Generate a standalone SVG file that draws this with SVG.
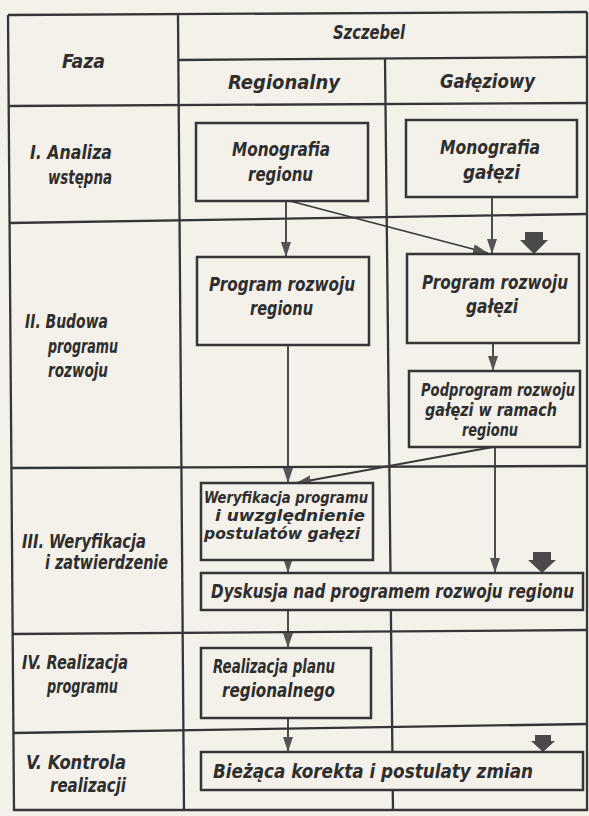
<svg xmlns="http://www.w3.org/2000/svg" width="589" height="816" viewBox="0 0 589 816">
<style>
  .bg { fill: #f3f1ea; }
  .grid line { stroke: #363636; stroke-width: 2.3; }
  .box { fill: #f3f1ea; stroke: #363636; stroke-width: 2.5; }
  .t { font-family: "DejaVu Sans Condensed", "Liberation Sans Narrow", sans-serif; font-style: italic; font-weight: bold; font-size: 19px; fill: #2e2e2e; }
  .s { font-size: 17px; }
  .xs { font-size: 16px; }
  .con line { stroke: #3a3a3a; stroke-width: 1.8; }
  .fat { fill: #4a4a4a; }
</style>
<defs>
  <marker id="ah" markerUnits="userSpaceOnUse" markerWidth="16" markerHeight="10" refX="15" refY="5" orient="auto">
    <path d="M0,0 L15,5 L0,10 z" fill="#555"/>
  </marker>
</defs>
<rect class="bg" x="0" y="0" width="589" height="816"/>

<g id="grid" class="grid">
  <line x1="8" y1="15" x2="587" y2="12"/>
  <line x1="8" y1="15" x2="14" y2="811"/>
  <line x1="587" y1="12" x2="587" y2="811"/>
  <line x1="178" y1="15" x2="184" y2="811"/>
  <line x1="178" y1="60" x2="587" y2="57"/>
  <line x1="8" y1="106" x2="587" y2="103"/>
  <line x1="385" y1="58" x2="393" y2="811"/>
  <line x1="9" y1="223" x2="587" y2="214"/>
  <line x1="11" y1="468" x2="587" y2="466"/>
  <line x1="12" y1="634" x2="587" y2="630"/>
  <line x1="13" y1="733" x2="587" y2="724"/>
  <line x1="14" y1="810" x2="587" y2="810"/>
</g>

<g id="header">
  <text class="t" x="333" y="39" textLength="72" lengthAdjust="spacingAndGlyphs">Szczebel</text>
  <text class="t" x="62" y="68" textLength="43" lengthAdjust="spacingAndGlyphs">Faza</text>
  <text class="t" x="228" y="89" textLength="112" lengthAdjust="spacingAndGlyphs">Regionalny</text>
  <text class="t" x="440" y="88" textLength="95" lengthAdjust="spacingAndGlyphs">Gałęziowy</text>
</g>

<g id="phase1"><text class="t" x="30" y="159" textLength="82" lengthAdjust="spacingAndGlyphs">I. Analiza</text><text class="t" x="48" y="184" textLength="64" lengthAdjust="spacingAndGlyphs">wstępna</text></g>
<g id="phase2"><text class="t" x="25" y="328" textLength="83" lengthAdjust="spacingAndGlyphs">II. Budowa</text><text class="t" x="48" y="353" textLength="70" lengthAdjust="spacingAndGlyphs">programu</text><text class="t" x="48" y="377" textLength="60" lengthAdjust="spacingAndGlyphs">rozwoju</text></g>
<g id="phase3"><text class="t" x="22" y="548" textLength="124" lengthAdjust="spacingAndGlyphs">III. Weryfikacja</text><text class="t" x="45" y="569" textLength="123" lengthAdjust="spacingAndGlyphs">i zatwierdzenie</text></g>
<g id="phase4"><text class="t" x="22" y="669" textLength="106" lengthAdjust="spacingAndGlyphs">IV. Realizacja</text><text class="t" x="47" y="693" textLength="71" lengthAdjust="spacingAndGlyphs">programu</text></g>
<g id="phase5"><text class="t" x="26" y="769" textLength="100" lengthAdjust="spacingAndGlyphs">V. Kontrola</text><text class="t" x="50" y="792" textLength="76" lengthAdjust="spacingAndGlyphs">realizacji</text></g>

<g id="connectors" class="con">
  <line x1="286" y1="201" x2="286" y2="257" marker-end="url(#ah)"/>
  <line x1="290" y1="201" x2="488" y2="253" marker-end="url(#ah)"/>
  <line x1="492" y1="197" x2="492" y2="254" marker-end="url(#ah)"/>
  <line x1="493" y1="343" x2="493" y2="371" marker-end="url(#ah)"/>
  <line x1="288" y1="345" x2="288" y2="483" marker-end="url(#ah)"/>
  <line x1="493" y1="447" x2="296" y2="483" marker-end="url(#ah)"/>
  <line x1="495" y1="447" x2="495" y2="573" marker-end="url(#ah)"/>
  <line x1="288" y1="560" x2="288" y2="573" marker-end="url(#ah)"/>
  <line x1="288" y1="610" x2="288" y2="648" marker-end="url(#ah)"/>
  <line x1="288" y1="718" x2="288" y2="752" marker-end="url(#ah)"/>
  <path class="fat" d="M525,232 L543,232 L543,240 L548,240 L534,254 L520,240 L525,240 z"/>
  <path class="fat" d="M533,552 L551,552 L551,560 L556,560 L542,573 L528,560 L533,560 z"/>
  <path class="fat" d="M535,735 L551,735 L551,741 L555,741 L543,752 L531,741 L535,741 z"/>
</g>

<g id="mono-regionu"><rect class="box" x="196" y="123" width="172" height="78"/>
  <text class="t" x="232" y="156" textLength="98" lengthAdjust="spacingAndGlyphs">Monografia</text><text class="t" x="248" y="181" textLength="65" lengthAdjust="spacingAndGlyphs">regionu</text></g>
<g id="mono-galezi"><rect class="box" x="406" y="120" width="171" height="77"/>
  <text class="t" x="440" y="154" textLength="100" lengthAdjust="spacingAndGlyphs">Monografia</text><text class="t" x="463" y="179" textLength="57" lengthAdjust="spacingAndGlyphs">gałęzi</text></g>
<g id="prog-regionu"><rect class="box" x="197" y="257" width="172" height="88"/>
  <text class="t" x="209" y="291" textLength="146" lengthAdjust="spacingAndGlyphs">Program rozwoju</text><text class="t" x="250" y="315" textLength="63" lengthAdjust="spacingAndGlyphs">regionu</text></g>
<g id="prog-galezi"><rect class="box" x="407" y="254" width="172" height="89"/>
  <text class="t" x="422" y="289" textLength="146" lengthAdjust="spacingAndGlyphs">Program rozwoju</text><text class="t" x="466" y="313" textLength="52" lengthAdjust="spacingAndGlyphs">gałęzi</text></g>
<g id="podprogram"><rect class="box" x="409" y="371" width="171" height="76"/>
  <text class="t s" x="421" y="396" textLength="154" lengthAdjust="spacingAndGlyphs">Podprogram rozwoju</text><text class="t s" x="425" y="416" textLength="132" lengthAdjust="spacingAndGlyphs">gałęzi w ramach</text><text class="t s" x="462" y="436" textLength="56" lengthAdjust="spacingAndGlyphs">regionu</text></g>
<g id="weryfikacja"><rect class="box" x="201" y="483" width="172" height="77"/>
  <text class="t xs" x="204" y="503" textLength="164" lengthAdjust="spacingAndGlyphs">Weryfikacja programu</text><text class="t xs" x="215" y="521" textLength="150" lengthAdjust="spacingAndGlyphs">i uwzględnienie</text><text class="t xs" x="204" y="539" textLength="156" lengthAdjust="spacingAndGlyphs">postulatów gałęzi</text></g>
<g id="dyskusja"><rect class="box" x="201" y="573" width="382" height="37"/>
  <text class="t" x="211" y="598" textLength="363" lengthAdjust="spacingAndGlyphs">Dyskusja nad programem rozwoju regionu</text></g>
<g id="realizacja"><rect class="box" x="201" y="648" width="170" height="70"/>
  <text class="t" x="213" y="673" textLength="122" lengthAdjust="spacingAndGlyphs">Realizacja planu</text><text class="t" x="222" y="697" textLength="113" lengthAdjust="spacingAndGlyphs">regionalnego</text></g>
<g id="biezaca"><rect class="box" x="201" y="752" width="382" height="38"/>
  <text class="t" x="213" y="778" textLength="320" lengthAdjust="spacingAndGlyphs">Bieżąca korekta i postulaty zmian</text></g>
</svg>
